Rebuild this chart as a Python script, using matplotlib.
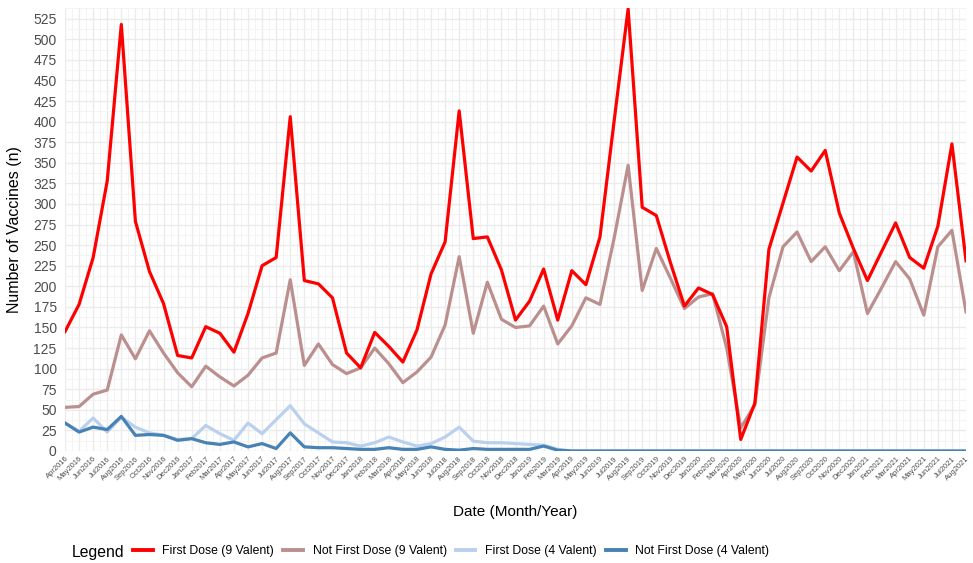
import matplotlib.pyplot as plt
from matplotlib.ticker import MultipleLocator

plt.rcParams['font.family'] = ['Liberation Sans', 'DejaVu Sans']

# months Apr2016 .. Aug2021
mon = ['Jan', 'Feb', 'Mar', 'Apr', 'May', 'Jun', 'Jul', 'Aug', 'Sep', 'Oct', 'Nov', 'Dec']
months = []
for yr in range(2016, 2022):
    for m in mon:
        months.append(m + str(yr))
months = months[3:months.index('Aug2021') + 1]

first_9 = [145, 178, 235, 328, 518, 279, 218, 179, 116, 113, 151, 143, 120, 167, 225, 235,
           406, 207, 203, 186, 119, 101, 144, 127, 108, 147, 215, 254, 413, 258, 260, 220,
           159, 182, 221, 159, 219, 202, 260, 400, 537, 296, 286, 229, 176, 198, 190, 151,
           14, 58, 245, 301, 357, 340, 365, 289, 246, 207, 242, 277, 235, 222, 273, 373, 231]

not_first_9 = [53, 54, 69, 74, 141, 112, 146, 119, 95, 78, 103, 90, 79, 92, 113, 119,
               208, 104, 130, 105, 94, 101, 125, 106, 83, 96, 114, 153, 236, 143, 205, 160,
               150, 152, 176, 130, 152, 186, 178, 258, 347, 195, 246, 210, 173, 187, 191, 125,
               28, 56, 186, 248, 266, 230, 248, 219, 242, 167, 198, 230, 209, 165, 248, 268, 169]

first_4 = [34, 24, 40, 23, 41, 29, 22, 19, 14, 15, 31, 21, 13, 34, 21, 38,
           55, 33, 22, 11, 10, 6, 10, 17, 11, 6, 9, 17, 29, 12, 10, 10,
           9, 8, 7, 2] + [0] * 29

not_first_4 = [34, 23, 29, 26, 42, 19, 20, 19, 13, 15, 10, 8, 11, 5, 9, 3,
               22, 5, 4, 4, 3, 2, 2, 4, 2, 2, 5, 2, 1, 3, 2, 2,
               2, 2, 6, 1] + [0] * 29

x = list(range(len(months)))

fig = plt.figure(figsize=(9.73, 5.63), dpi=100)
ax = fig.add_axes([65 / 973, 1 - 451 / 563, 901 / 973, 443 / 563])

lw = 2.3
ax.plot(x, first_4, color='#b9d0ee', lw=lw, label='First Dose (4 Valent)')
ax.plot(x, not_first_4, color='#4682b4', lw=lw, label='Not First Dose (4 Valent)')
ax.plot(x, not_first_9, color='#bc8f8f', lw=lw, label='Not First Dose (9 Valent)')
ax.plot(x, first_9, color='#ff0000', lw=lw, label='First Dose (9 Valent)')

ax.set_xlim(0, len(months) - 1)
ax.set_ylim(0, 538)
ax.yaxis.set_major_locator(MultipleLocator(25))
ax.yaxis.set_minor_locator(MultipleLocator(12.5))
ax.set_xticks(x)
ax.set_xticks([i + 0.5 for i in x[:-1]], minor=True)
ax.set_xticklabels(months, rotation=45, ha='right', rotation_mode='anchor', fontsize=5.5, color='#4d4d4d')
ax.tick_params(axis='y', labelsize=10, labelcolor='#4d4d4d', pad=6)
ax.tick_params(axis='x', pad=3)
ax.tick_params(which='both', length=0)

ax.grid(which='major', color='#ebebeb', lw=1.0)
ax.grid(which='minor', color='#f2f2f2', lw=0.6)
ax.set_axisbelow(True)
for s in ax.spines.values():
    s.set_visible(False)

ax.set_ylabel('Number of Vaccines (n)', fontsize=11.5, labelpad=8)
ax.set_xlabel('Date (Month/Year)', fontsize=11, labelpad=16)

h, l = ax.get_legend_handles_labels()
order = [3, 2, 0, 1]
fig.text(72 / 973, 1 - 552 / 563, 'Legend', fontsize=11.3, va='center')
leg = fig.legend([h[i] for i in order], [l[i] for i in order], loc='center left',
                 bbox_to_anchor=(133 / 973, 1 - 551 / 563), ncol=4, frameon=False,
                 fontsize=8.8, handlelength=1.6, columnspacing=0.75, handletextpad=0.8,
                 borderpad=0, borderaxespad=0)
for ln in leg.get_lines():
    ln.set_linewidth(2.8)

fig.savefig('out.png', dpi=100)
